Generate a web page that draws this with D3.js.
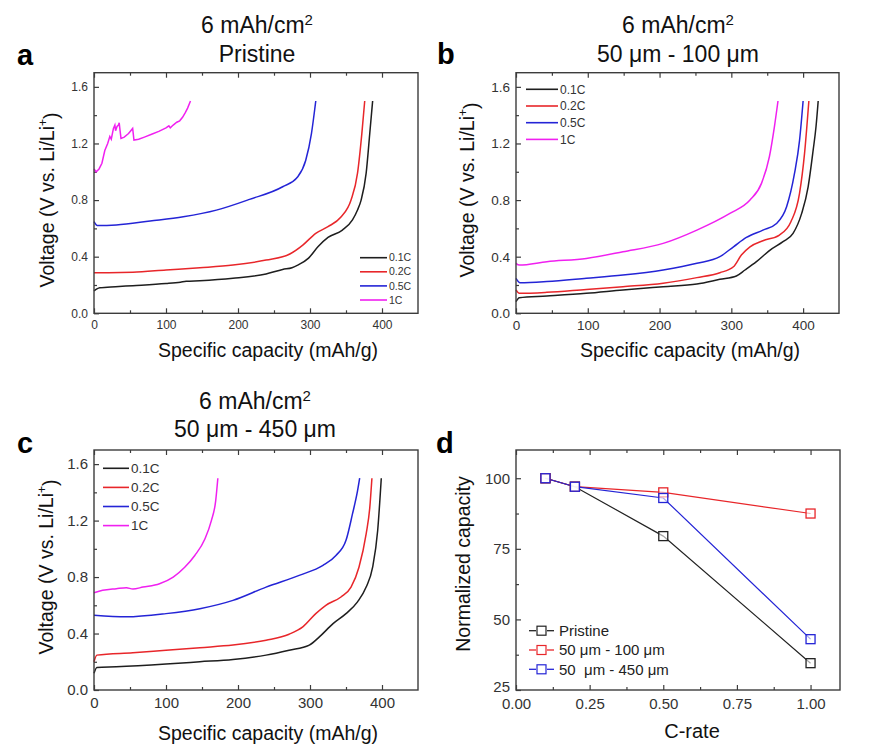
<!DOCTYPE html>
<html lang="en">
<head>
<meta charset="UTF-8">
<title>Voltage profiles and rate capability</title>
<style>
  body { margin: 0; background: #fff; }
  svg { display: block; font-family: "Liberation Sans", Arial, sans-serif; }
  .frame { fill: none; stroke: #3c3c3c; stroke-width: 1.4px; }
  .axis path { display: none; }
  .axis line { stroke: #3c3c3c; stroke-width: 1.2px; }
  .axis text { fill: #333; }
  .curve { fill: none; stroke-width: 1.5px; }
</style>
</head>
<body>
<svg width="888" height="745"></svg>
<script src="https://d3js.org/d3.v7.min.js"></script>
<script>
// ---- panel a: Pristine, [capacity mAh/g, voltage V]
const aC01 = [[0,0.158],[4,0.172],[8,0.18],[30,0.188],[54,0.195],[100,0.21],[120,0.22],[128,0.226],[147,0.23],[193,0.247],[239,0.278],[262,0.31],[275,0.322],[283,0.34],[298,0.39],[311,0.47],[325,0.536],[345,0.588],[359,0.66],[366,0.73],[371,0.8],[378,0.99],[383,1.27],[387,1.5]];
const aC02 = [[0,0.287],[20,0.287],[54,0.29],[100,0.306],[147,0.322],[193,0.341],[239,0.376],[272,0.419],[290,0.482],[308,0.565],[325,0.612],[343,0.68],[357,0.8],[366,0.99],[372,1.27],[376,1.5]];
const aC05 = [[0,0.647],[4.6,0.62],[31,0.624],[78,0.652],[124,0.682],[170,0.729],[216,0.805],[262,0.894],[283,0.965],[294,1.08],[302,1.27],[308,1.5]];
const aC1  = [[0,1.02],[3,1.0],[7,1.02],[11,1.06],[15,1.15],[19,1.2],[22,1.25],[24,1.23],[27,1.306],[29,1.33],[30,1.29],[32,1.32],[34,1.33],[35,1.346],[36,1.3],[37.5,1.236],[42,1.245],[48,1.27],[53.7,1.306],[55.5,1.224],[62,1.23],[70,1.245],[80,1.265],[90,1.285],[100,1.31],[104,1.325],[106,1.31],[110,1.33],[115,1.35],[119,1.36],[123,1.385],[127,1.42],[130,1.45],[134,1.5]];

// ---- panel b: 50 um - 100 um
const bC01 = [[0,0.082],[4.6,0.11],[43,0.122],[98,0.141],[149,0.165],[205,0.188],[252,0.207],[284,0.24],[307,0.264],[319,0.306],[335,0.365],[354,0.447],[372,0.506],[386,0.565],[398,0.706],[407,0.894],[414,1.153],[418,1.32],[421,1.5]];
const bC02 = [[0,0.165],[4.6,0.141],[43,0.148],[98,0.169],[149,0.188],[205,0.212],[252,0.252],[284,0.287],[303,0.329],[314,0.412],[326,0.47],[344,0.513],[367,0.553],[383,0.647],[395,0.847],[402,1.13],[408,1.5]];
const bC05 = [[0,0.247],[5.6,0.216],[43,0.224],[98,0.247],[149,0.27],[205,0.306],[252,0.353],[284,0.4],[303,0.47],[321,0.536],[344,0.588],[363,0.635],[377,0.753],[388,0.988],[395,1.22],[400,1.5]];
const bC1  = [[0,0.353],[4.6,0.341],[43,0.365],[98,0.388],[149,0.435],[205,0.494],[252,0.588],[298,0.706],[326,0.8],[342,0.918],[353,1.106],[360,1.318],[365,1.5]];

// ---- panel c: 50 um - 450 um
const cC01 = [[0,0.118],[4,0.16],[31,0.165],[100,0.184],[147,0.2],[193,0.216],[239,0.247],[271,0.282],[299,0.318],[313,0.376],[332,0.47],[350,0.541],[366,0.624],[378,0.729],[387,0.87],[394,1.13],[399,1.5]];
const cC02 = [[0,0.2],[4,0.247],[54,0.264],[100,0.282],[147,0.3],[193,0.318],[239,0.353],[271,0.395],[290,0.447],[308,0.541],[322,0.6],[343,0.659],[357,0.729],[368,0.87],[378,1.106],[383,1.29],[386,1.5]];
const cC05 = [[0,0.529],[45,0.518],[100,0.541],[147,0.576],[193,0.635],[239,0.729],[285,0.812],[318,0.882],[336,0.953],[350,1.06],[359,1.247],[366,1.41],[369,1.5]];
const cC1  = [[0,0.689],[12,0.706],[31,0.718],[45,0.725],[54,0.715],[68,0.729],[91,0.753],[110,0.8],[126,0.87],[140,0.953],[154,1.07],[163,1.2],[169,1.34],[172,1.5]];

// ---- panel d: normalized capacity vs C-rate
const cRates = [0.1, 0.2, 0.5, 1.0];
const normPristine = [100, 97, 79.5, 34.5];
const norm100 = [100, 97, 95, 87.5];
const norm450 = [100, 97, 93, 43];

const rateLabels = ["0.1C", "0.2C", "0.5C", "1C"];
const rateColors = ["#1e1e1e", "#e8262a", "#2424d6", "#f020f0"];

const svg = d3.select("svg");

function frame(g, w, h) {
  g.append("rect").attr("class", "frame").attr("width", w).attr("height", h);
}

function ticks(g, x, y, w, h, o) {
  g.append("g").attr("class", "axis").attr("transform", "translate(0," + h + ")")
    .call(d3.axisBottom(x).tickValues(o.xMajor).tickSize(-5).tickPadding(o.xPad || 7).tickFormat(o.xFmt))
    .selectAll("text").style("font-size", o.tickFont + "px");
  g.append("g").attr("class", "axis").attr("transform", "translate(0," + h + ")")
    .call(d3.axisBottom(x).tickValues(o.xMinor).tickSize(-3).tickFormat(""));
  g.append("g").attr("class", "axis")
    .call(d3.axisTop(x).tickValues(o.xMajor).tickSize(-5).tickFormat(""));
  g.append("g").attr("class", "axis")
    .call(d3.axisTop(x).tickValues(o.xMinor).tickSize(-3).tickFormat(""));
  g.append("g").attr("class", "axis")
    .call(d3.axisLeft(y).tickValues(o.yMajor).tickSize(-5).tickPadding(6).tickFormat(o.yFmt))
    .selectAll("text").style("font-size", o.tickFont + "px");
  g.append("g").attr("class", "axis")
    .call(d3.axisLeft(y).tickValues(o.yMinor).tickSize(-3).tickFormat(""));
  return g;
}

function title(lines, cx, ys) {
  lines.forEach(function(t, i) {
    const tx = svg.append("text").attr("x", cx).attr("y", ys[i])
      .attr("text-anchor", "middle").style("font-size", "23px").attr("fill", "#111");
    if (t === "6 mAh/cm") {
      tx.append("tspan").text(t);
      tx.append("tspan").attr("dy", -8).style("font-size", "15px").text("2");
    } else {
      tx.text(t);
    }
  });
}

function panelLetter(t, x, y) {
  svg.append("text").attr("x", x).attr("y", y).style("font-size", "29px")
    .style("font-weight", "bold").attr("fill", "#000").text(t);
}

function voltageLabel(cx, cy) {
  const t = svg.append("text").attr("transform", "translate(" + cx + "," + cy + ") rotate(-90)")
    .attr("text-anchor", "middle").attr("dy", "0.35em").style("font-size", "19.5px").attr("fill", "#111");
  t.append("tspan").text("Voltage (V vs. Li/Li");
  t.append("tspan").attr("dy", "-0.6em").style("font-size", "12px").text("+");
  t.append("tspan").attr("dy", "0.6em").text(")");
}

function xLabel(txt, cx, y, size) {
  svg.append("text").attr("x", cx).attr("y", y).attr("text-anchor", "middle")
    .style("font-size", size + "px").attr("fill", "#111").text(txt);
}

function voltagePanel(box, series, leg) {
  const w = box.r - box.l, h = box.b - box.t;
  const g = svg.append("g").attr("transform", "translate(" + box.l + "," + box.t + ")");
  const x = d3.scaleLinear().domain([0, 450]).range([0, w]);
  const y = d3.scaleLinear().domain([0, 1.7]).range([h, 0]);
  ticks(g, x, y, w, h, {
    xMajor: [0, 100, 200, 300, 400], xMinor: [50, 150, 250, 350],
    yMajor: [0, 0.4, 0.8, 1.2, 1.6], yMinor: [0.2, 0.6, 1.0, 1.4],
    xFmt: d3.format("d"), yFmt: d3.format(".1f"), tickFont: box.tickFont
  });
  series.forEach(function(s, i) {
    const line = d3.line().x(function(d) { return x(d[0]); }).y(function(d) { return y(d[1]); })
      .curve(s.jagged ? d3.curveLinear : d3.curveMonotoneX);
    g.append("path").datum(s.data).attr("class", "curve")
      .attr("stroke", rateColors[i]).attr("stroke-width", s.jagged ? 1.3 : 1.5).attr("d", line);
  });
  const lg = g.append("g").attr("transform", "translate(" + (leg.x - box.l) + "," + (leg.y - box.t) + ")");
  rateLabels.forEach(function(t, i) {
    lg.append("line").attr("x1", 0).attr("x2", leg.len).attr("y1", i * leg.dy).attr("y2", i * leg.dy)
      .attr("stroke", rateColors[i]).attr("stroke-width", 1.6);
    lg.append("text").attr("x", leg.len + 2).attr("y", i * leg.dy).attr("dy", "0.35em")
      .style("font-size", leg.font + "px").attr("fill", "#333").text(t);
  });
  frame(g, w, h);
}

// panel a
panelLetter("a", 17, 65);
title(["6 mAh/cm", "Pristine"], 257, [33, 62]);
voltagePanel({l: 94, r: 418, t: 72.7, b: 313.3, tickFont: 12},
  [{data: aC01}, {data: aC02}, {data: aC05}, {data: aC1, jagged: true}],
  {x: 360, y: 257.7, dy: 14.1, len: 27, font: 10.5});
voltageLabel(47, 200);
xLabel("Specific capacity (mAh/g)", 268, 357, 19.5);

// panel b
panelLetter("b", 437, 64);
title(["6 mAh/cm", "50 \u03bcm - 100 \u03bcm"], 678, [33, 62]);
voltagePanel({l: 516, r: 839, t: 72.7, b: 313.3, tickFont: 13.5},
  [{data: bC01}, {data: bC02}, {data: bC05}, {data: bC1}],
  {x: 526, y: 89.3, dy: 16.7, len: 32, font: 12});
voltageLabel(467, 190);
xLabel("Specific capacity (mAh/g)", 690, 357, 19.5);

// panel c
panelLetter("c", 17, 453);
title(["6 mAh/cm", "50 \u03bcm - 450 \u03bcm"], 255, [409, 437]);
voltagePanel({l: 94, r: 418, t: 450, b: 690, tickFont: 15},
  [{data: cC01}, {data: cC02}, {data: cC05}, {data: cC1}],
  {x: 103, y: 468.3, dy: 19.1, len: 26, font: 13.5});
voltageLabel(46, 567);
xLabel("Specific capacity (mAh/g)", 268, 740, 19.5);

// panel d
panelLetter("d", 436, 453);
(function() {
  const box = {l: 516, r: 840, t: 450, b: 690};
  const w = box.r - box.l, h = box.b - box.t;
  const g = svg.append("g").attr("transform", "translate(" + box.l + "," + box.t + ")");
  const x = d3.scaleLinear().domain([0, 1.1]).range([0, w]);
  const y = d3.scaleLinear().domain([25, 110]).range([h, 0]);
  ticks(g, x, y, w, h, {
    xMajor: [0, 0.25, 0.5, 0.75, 1.0], xMinor: [0.125, 0.375, 0.625, 0.875],
    yMajor: [25, 50, 75, 100], yMinor: [37.5, 62.5, 87.5],
    xFmt: d3.format(".2f"), yFmt: d3.format("d"), tickFont: 15, xPad: 8
  });
  // lift the bottom "25" label a little so it clears "0.00"
  g.selectAll(".axis text").filter(function(d) { return d === 25; }).attr("dy", "0.12em");
  const sets = [
    {vals: normPristine, color: "#222", label: "Pristine"},
    {vals: norm100, color: "#e8262a", label: "50 \u03bcm - 100 \u03bcm"},
    {vals: norm450, color: "#2424d6", label: "50  \u03bcm - 450 \u03bcm"}
  ];
  const line = d3.line().x(function(d) { return x(d[0]); }).y(function(d) { return y(d[1]); });
  sets.forEach(function(s) {
    const pts = cRates.map(function(r, i) { return [r, s.vals[i]]; });
    g.append("path").datum(pts).attr("fill", "none").attr("stroke", s.color)
      .attr("stroke-width", 1.2).attr("d", line);
  });
  sets.forEach(function(s) {
    const pts = cRates.map(function(r, i) { return [r, s.vals[i]]; });
    g.selectAll(null).data(pts).enter().append("rect")
      .attr("x", function(d) { return x(d[0]) - 4.5; })
      .attr("y", function(d) { return y(d[1]) - 4.5; })
      .attr("width", 9).attr("height", 9)
      .attr("fill", "#fff").attr("fill-opacity", 0.6)
      .attr("stroke", s.color).attr("stroke-width", 1.3);
  });
  const lg = g.append("g").attr("transform", "translate(" + (529 - box.l) + "," + (630.7 - box.t) + ")");
  sets.forEach(function(s, i) {
    const yy = i * 19.3;
    lg.append("line").attr("x1", 0).attr("x2", 7).attr("y1", yy).attr("y2", yy)
      .attr("stroke", s.color).attr("stroke-width", 1.3);
    lg.append("line").attr("x1", 18).attr("x2", 25).attr("y1", yy).attr("y2", yy)
      .attr("stroke", s.color).attr("stroke-width", 1.3);
    lg.append("rect").attr("x", 8).attr("y", yy - 4.5).attr("width", 9).attr("height", 9)
      .attr("fill", "#fff").attr("stroke", s.color).attr("stroke-width", 1.2);
    lg.append("text").attr("x", 30).attr("y", yy).attr("dy", "0.35em")
      .style("font-size", "15px").style("white-space", "pre").attr("xml:space", "preserve")
      .attr("fill", "#222").text(s.label);
  });
  frame(g, w, h);
})();
svg.append("text").attr("transform", "translate(463,564) rotate(-90)")
  .attr("text-anchor", "middle").attr("dy", "0.35em").style("font-size", "19.5px")
  .attr("fill", "#111").text("Normalized capacity");
xLabel("C-rate", 692, 738, 20);
</script>
</body>
</html>
